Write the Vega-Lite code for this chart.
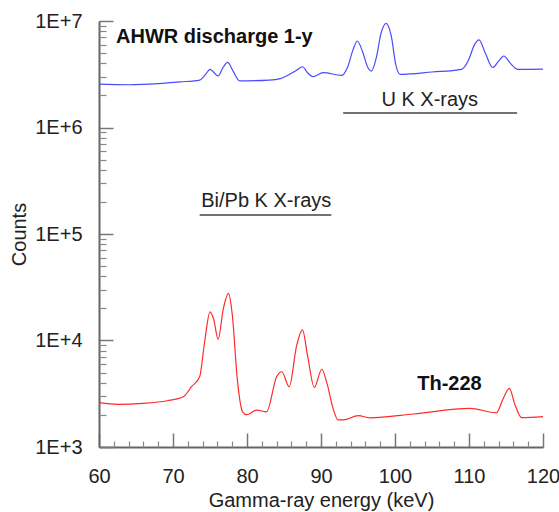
{
  "$schema": "https://vega.github.io/schema/vega-lite/v6.json",
  "width": 444,
  "height": 426,
  "autosize": "none",
  "padding": {"left": 99, "top": 21, "right": 16, "bottom": 65},
  "config": {"view": {"stroke": null}, "font": "Liberation Sans"},
  "datasets": {
    "spectra": [
      {"series": "AHWR", "energy": 60, "counts": 2550000},
      {"series": "AHWR", "energy": 64, "counts": 2520000},
      {"series": "AHWR", "energy": 68, "counts": 2580000},
      {"series": "AHWR", "energy": 71, "counts": 2680000},
      {"series": "AHWR", "energy": 73.6, "counts": 2790000},
      {"series": "AHWR", "energy": 74.4, "counts": 3150000},
      {"series": "AHWR", "energy": 75.0, "counts": 3520000},
      {"series": "AHWR", "energy": 76.1, "counts": 3050000},
      {"series": "AHWR", "energy": 76.8, "counts": 3700000},
      {"series": "AHWR", "energy": 77.4, "counts": 4090000},
      {"series": "AHWR", "energy": 78.1, "counts": 3400000},
      {"series": "AHWR", "energy": 79.0, "counts": 2740000},
      {"series": "AHWR", "energy": 83.0, "counts": 2790000},
      {"series": "AHWR", "energy": 84.5, "counts": 2880000},
      {"series": "AHWR", "energy": 86.7, "counts": 3450000},
      {"series": "AHWR", "energy": 87.5, "counts": 3720000},
      {"series": "AHWR", "energy": 88.2, "counts": 3250000},
      {"series": "AHWR", "energy": 88.9, "counts": 3000000},
      {"series": "AHWR", "energy": 90.3, "counts": 3270000},
      {"series": "AHWR", "energy": 92.8, "counts": 3090000},
      {"series": "AHWR", "energy": 93.6, "counts": 3700000},
      {"series": "AHWR", "energy": 94.3, "counts": 5300000},
      {"series": "AHWR", "energy": 94.9, "counts": 6490000},
      {"series": "AHWR", "energy": 95.6, "counts": 5200000},
      {"series": "AHWR", "energy": 96.3, "counts": 3700000},
      {"series": "AHWR", "energy": 96.8, "counts": 3390000},
      {"series": "AHWR", "energy": 97.5, "counts": 4600000},
      {"series": "AHWR", "energy": 98.1, "counts": 7600000},
      {"series": "AHWR", "energy": 98.8, "counts": 9500000},
      {"series": "AHWR", "energy": 99.5, "counts": 7200000},
      {"series": "AHWR", "energy": 100.1, "counts": 3900000},
      {"series": "AHWR", "energy": 100.7, "counts": 3160000},
      {"series": "AHWR", "energy": 105, "counts": 3320000},
      {"series": "AHWR", "energy": 109.0, "counts": 3520000},
      {"series": "AHWR", "energy": 110.0, "counts": 4400000},
      {"series": "AHWR", "energy": 110.7, "counts": 5900000},
      {"series": "AHWR", "energy": 111.35, "counts": 6640000},
      {"series": "AHWR", "energy": 112.2, "counts": 5000000},
      {"series": "AHWR", "energy": 113.2, "counts": 3660000},
      {"series": "AHWR", "energy": 114.0, "counts": 4200000},
      {"series": "AHWR", "energy": 114.7, "counts": 4690000},
      {"series": "AHWR", "energy": 115.6, "counts": 4000000},
      {"series": "AHWR", "energy": 116.6, "counts": 3520000},
      {"series": "AHWR", "energy": 120, "counts": 3540000},
      {"series": "Th228", "energy": 60, "counts": 2606},
      {"series": "Th228", "energy": 62.6, "counts": 2512},
      {"series": "Th228", "energy": 66, "counts": 2570},
      {"series": "Th228", "energy": 69.2, "counts": 2720},
      {"series": "Th228", "energy": 71.4, "counts": 2965},
      {"series": "Th228", "energy": 72.5, "counts": 3680},
      {"series": "Th228", "energy": 73.6, "counts": 4570},
      {"series": "Th228", "energy": 74.3, "counts": 10000},
      {"series": "Th228", "energy": 75.0, "counts": 18600},
      {"series": "Th228", "energy": 75.5, "counts": 15800},
      {"series": "Th228", "energy": 76.1, "counts": 10260},
      {"series": "Th228", "energy": 76.8, "counts": 19950},
      {"series": "Th228", "energy": 77.5, "counts": 27700},
      {"series": "Th228", "energy": 78.0, "counts": 17800},
      {"series": "Th228", "energy": 78.7, "counts": 4270},
      {"series": "Th228", "energy": 79.4, "counts": 2140},
      {"series": "Th228", "energy": 79.95, "counts": 2010},
      {"series": "Th228", "energy": 81.3, "counts": 2220},
      {"series": "Th228", "energy": 82.65, "counts": 2140},
      {"series": "Th228", "energy": 84.0, "counts": 4570},
      {"series": "Th228", "energy": 84.7, "counts": 5090},
      {"series": "Th228", "energy": 85.7, "counts": 3680},
      {"series": "Th228", "energy": 86.7, "counts": 8900},
      {"series": "Th228", "energy": 87.5, "counts": 12560},
      {"series": "Th228", "energy": 88.2, "counts": 7080},
      {"series": "Th228", "energy": 89.1, "counts": 3630},
      {"series": "Th228", "energy": 90.1, "counts": 5370},
      {"series": "Th228", "energy": 90.8, "counts": 3980},
      {"series": "Th228", "energy": 91.7, "counts": 2220},
      {"series": "Th228", "energy": 92.3, "counts": 1795},
      {"series": "Th228", "energy": 93.0, "counts": 1795},
      {"series": "Th228", "energy": 95.05, "counts": 1970},
      {"series": "Th228", "energy": 96.6, "counts": 1880},
      {"series": "Th228", "energy": 102.5, "counts": 2040},
      {"series": "Th228", "energy": 110.1, "counts": 2310},
      {"series": "Th228", "energy": 113.7, "counts": 2100},
      {"series": "Th228", "energy": 114.6, "counts": 2820},
      {"series": "Th228", "energy": 115.45, "counts": 3550},
      {"series": "Th228", "energy": 116.2, "counts": 2510},
      {"series": "Th228", "energy": 117.1, "counts": 1890},
      {"series": "Th228", "energy": 120, "counts": 1930}
    ],
    "labels": [
      {"label": "AHWR discharge 1-y", "energy": 62.3, "counts": 6250000, "kind": "bold"},
      {"label": "Th-228", "energy": 103.0, "counts": 3400, "kind": "bold"},
      {"label": "U K X-rays", "energy": 104.7, "counts": 1600000, "kind": "plain"},
      {"label": "Bi/Pb K X-rays", "energy": 82.6, "counts": 180000, "kind": "plain"}
    ],
    "bands": [
      {"band": "U K", "start": 93.0, "end": 116.5, "counts": 1370000},
      {"band": "Bi/Pb K", "start": 73.6, "end": 91.4, "counts": 151000}
    ]
  },
  "resolve": {"axis": {"x": "independent", "y": "independent"}},
  "layer": [
    {
      "data": {"name": "spectra"},
      "mark": {"type": "line", "strokeWidth": 1.2, "interpolate": "monotone"},
      "encoding": {
        "x": {
          "field": "energy", "type": "quantitative",
          "scale": {"domain": [60, 120], "nice": false},
          "axis": {
            "orient": "bottom",
            "title": "Gamma-ray energy (keV)",
            "titleFont": "Liberation Sans", "titleFontSize": 20, "titleFontWeight": "normal", "titleColor": "#222",
            "titlePadding": 4,
            "values": [60, 70, 80, 90, 100, 110, 120],
            "format": "d",
            "labelOverlap": false,
            "labelFontSize": 20, "labelColor": "#222", "labelPadding": 33, "labelFlush": false,
            "grid": false,
            "domainColor": "#666", "domainWidth": 2,
            "tickColor": "#777", "tickWidth": 1.5, "tickSize": -14
          }
        },
        "y": {
          "field": "counts", "type": "quantitative",
          "scale": {"type": "log", "domain": [1000, 10000000], "nice": false},
          "axis": {
            "orient": "left",
            "title": "Counts",
            "titleFont": "Liberation Sans", "titleFontSize": 20, "titleFontWeight": "normal", "titleColor": "#222",
            "titlePadding": 5,
            "values": [1000, 10000, 100000, 1000000, 10000000],
            "labelExpr": "'1E+' + round(log(datum.value)/LN10)",
            "labelOverlap": false,
            "labelFontSize": 20, "labelColor": "#222", "labelPadding": 31, "labelFlush": false,
            "grid": false,
            "domainColor": "#666", "domainWidth": 2,
            "tickColor": "#777", "tickWidth": 1.5, "tickSize": -14
          }
        },
        "color": {
          "field": "series", "type": "nominal",
          "scale": {"domain": ["AHWR", "Th228"], "range": ["#4a4aff", "#ff2a2a"]},
          "legend": null
        }
      }
    },
    {
      "data": {"name": "bands"},
      "mark": {"type": "rule", "color": "#444", "strokeWidth": 1.6},
      "encoding": {
        "x": {
          "field": "start", "type": "quantitative",
          "scale": {"domain": [60, 120], "nice": false},
          "axis": {
            "orient": "bottom", "title": null, "labels": false, "domain": false, "grid": false,
            "values": [62,64,66,68,72,74,76,78,82,84,86,88,92,94,96,98,102,104,106,108,112,114,116,118],
            "tickColor": "#888", "tickWidth": 1.2, "tickSize": -6
          }
        },
        "x2": {"field": "end"},
        "y": {
          "field": "counts", "type": "quantitative",
          "scale": {"type": "log", "domain": [1000, 10000000], "nice": false},
          "axis": {
            "orient": "left", "title": null, "labels": false, "domain": false, "grid": false,
            "values": [2000,3000,4000,5000,6000,7000,8000,9000,20000,30000,40000,50000,60000,70000,80000,90000,200000,300000,400000,500000,600000,700000,800000,900000,2000000,3000000,4000000,5000000,6000000,7000000,8000000,9000000],
            "tickColor": "#888", "tickWidth": 1.2, "tickSize": -7
          }
        }
      }
    },
    {
      "data": {"name": "labels"},
      "transform": [{"filter": "datum.kind === 'bold'"}],
      "mark": {"type": "text", "align": "left", "baseline": "alphabetic", "fontWeight": "bold", "fontSize": 20, "color": "#111"},
      "encoding": {
        "x": {"field": "energy", "type": "quantitative", "axis": null},
        "y": {"field": "counts", "type": "quantitative", "axis": null},
        "text": {"field": "label"}
      }
    },
    {
      "data": {"name": "labels"},
      "transform": [{"filter": "datum.kind === 'plain'"}],
      "mark": {"type": "text", "align": "center", "baseline": "alphabetic", "fontSize": 20, "color": "#222"},
      "encoding": {
        "x": {"field": "energy", "type": "quantitative", "axis": null},
        "y": {"field": "counts", "type": "quantitative", "axis": null},
        "text": {"field": "label"}
      }
    }
  ]
}
